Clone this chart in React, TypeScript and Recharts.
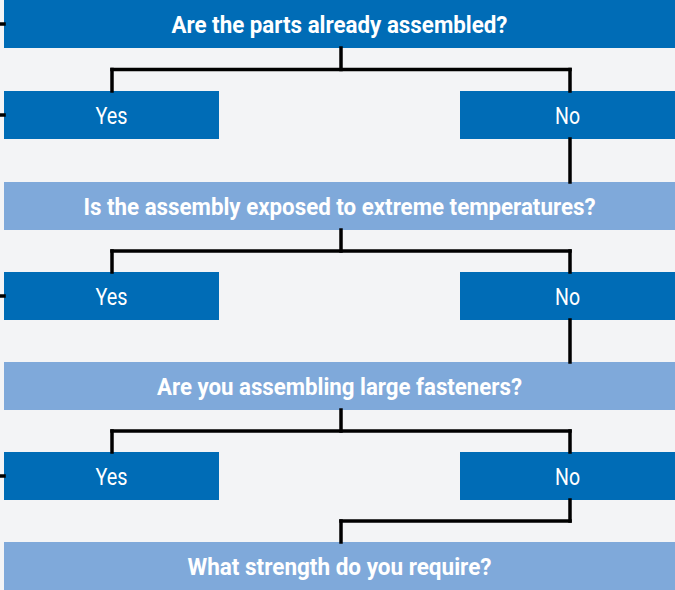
import { ComposedChart, ReferenceArea, ReferenceLine, XAxis, YAxis } from "recharts";

const questions = [
  "Are the parts already assembled?",
  "Is the assembly exposed to extreme temperatures?",
  "Are you assembling large fasteners?",
  "What strength do you require?",
];
const answers = ["Yes", "No"];

// layout (pixels in chart space)
const W = 675;
const H = 590;
const questionTop = [0, 182, 362, 542];
const answerTop = [91, 272, 452];
const boxH = 48;
const leftBox = [4, 219];
const rightBox = [460, 675];
const fullBox = [4, 675];
const midX = 341;
const yesX = 112;
const noX = 570;
const questionTextWidth = [336, 512, 365, 304];
const answerTextWidth = [32, 25];

const DARK = "#006cb6";
const LIGHT = "#7fa9da";
const BG = "#f3f4f6";

function boxLabel(text: string, width: number, bold: boolean) {
  return (props: any) => {
    const vb = props.viewBox;
    return (
      <text
        x={vb.x + vb.width / 2}
        y={vb.y + vb.height / 2 + 1}
        textAnchor="middle"
        dominantBaseline="central"
        fill="#ffffff"
        fontFamily="Roboto, 'Liberation Sans', sans-serif"
        fontWeight={bold ? 700 : 400}
        fontSize={24}
        textLength={width}
        lengthAdjust="spacingAndGlyphs"
      >
        {text}
      </text>
    );
  };
}

type Seg = [number, number, number, number];

const segments: Seg[] = [];
// stub on left of first question
segments.push([0, questionTop[0] + boxH / 2, fullBox[0], questionTop[0] + boxH / 2]);
answerTop.forEach((top, i) => {
  const qBottom = questionTop[i] + boxH;
  const branchY = qBottom + (top - qBottom) / 2;
  segments.push([midX, qBottom, midX, branchY]);
  segments.push([yesX, branchY, noX, branchY]);
  segments.push([yesX, branchY, yesX, top]);
  segments.push([noX, branchY, noX, top]);
  // stub on the left of Yes box
  segments.push([0, top + boxH / 2, leftBox[0], top + boxH / 2]);
  const aBottom = top + boxH;
  const nextTop = questionTop[i + 1];
  if (i < answerTop.length - 1) {
    segments.push([noX, aBottom, noX, nextTop]);
  } else {
    const joinY = aBottom + (nextTop - aBottom) / 2;
    segments.push([noX, aBottom, noX, joinY]);
    segments.push([midX, joinY, noX, joinY]);
    segments.push([midX, joinY, midX, nextTop]);
  }
});

export default function App() {
  return (
    <div style={{ position: "absolute", left: 0, top: 0, width: W, height: H, background: BG }}>
      <ComposedChart width={W} height={H} data={[]} margin={{ top: 0, right: 0, bottom: 0, left: 0 }}>
        <XAxis type="number" dataKey="x" domain={[0, W]} hide allowDataOverflow />
        <YAxis type="number" dataKey="y" domain={[0, H]} reversed hide allowDataOverflow />
        {segments.map(([x1, y1, x2, y2], i) => (
          <ReferenceLine
            key={"s" + i}
            segment={[
              { x: x1, y: y1 },
              { x: x2, y: y2 },
            ]}
            stroke="#000000"
            strokeWidth={3.5}
            strokeLinecap="square"
            ifOverflow="visible"
          />
        ))}
        {questions.map((q, i) => (
          <ReferenceArea
            key={"q" + i}
            x1={fullBox[0]}
            x2={fullBox[1]}
            y1={questionTop[i]}
            y2={questionTop[i] + boxH}
            fill={i === 0 ? DARK : LIGHT}
            fillOpacity={1}
            stroke="none"
            ifOverflow="visible"
            label={boxLabel(q, questionTextWidth[i], true)}
          />
        ))}
        {answerTop.map((top, i) =>
          answers.map((a, j) => {
            const xr = j === 0 ? leftBox : rightBox;
            return (
              <ReferenceArea
                key={"a" + i + j}
                x1={xr[0]}
                x2={xr[1]}
                y1={top}
                y2={top + boxH}
                fill={DARK}
                fillOpacity={1}
                stroke="none"
                ifOverflow="visible"
                label={boxLabel(a, answerTextWidth[j], false)}
              />
            );
          })
        )}
      </ComposedChart>
    </div>
  );
}
